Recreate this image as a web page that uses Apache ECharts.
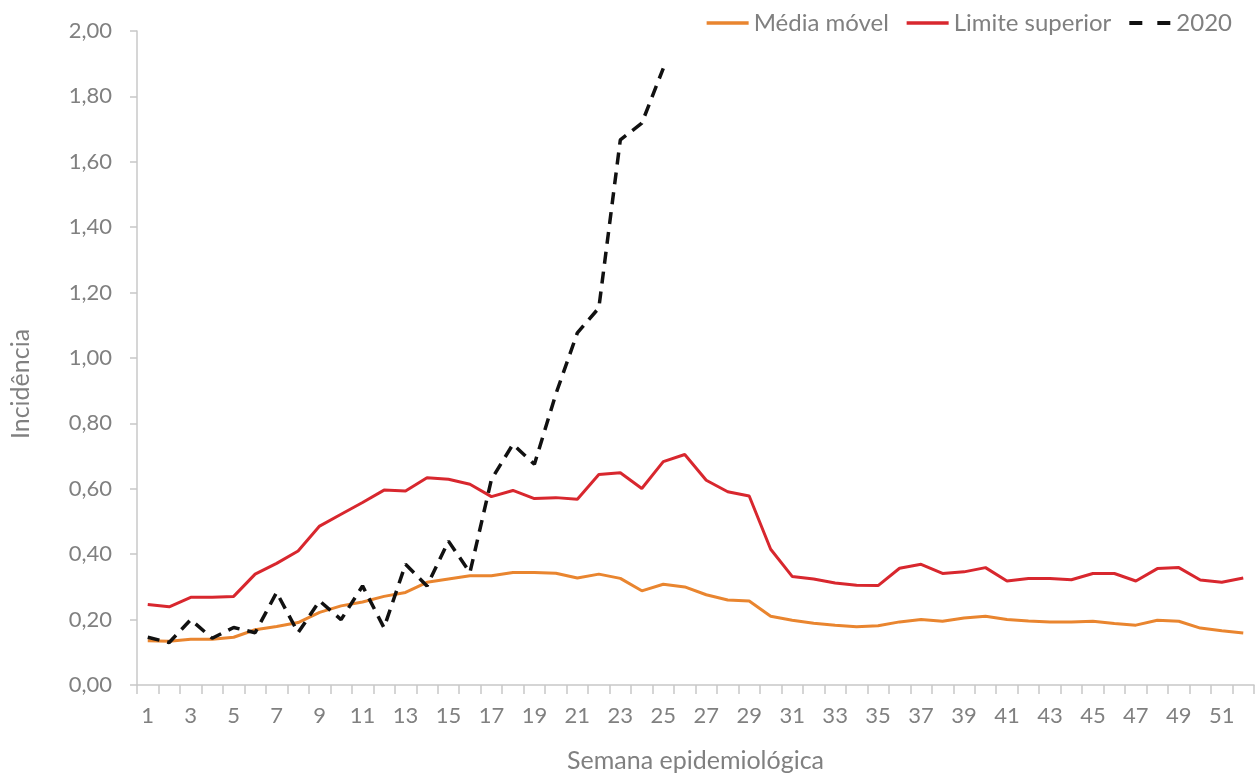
<!DOCTYPE html>
<html>
<head>
<meta charset="utf-8">
<script src="https://cdn.jsdelivr.net/npm/echarts@6/dist/echarts.min.js"></script>
<style>
  html, body { margin: 0; padding: 0; background: #fff; }
  #chart { width: 1259px; height: 780px; }
</style>
</head>
<body>
<div id="chart"></div>
<script>
var semanas = ['1','2','3','4','5','6','7','8','9','10','11','12','13','14','15','16','17','18','19','20',
    '21','22','23','24','25','26','27','28','29','30','31','32','33','34','35','36','37','38','39','40',
    '41','42','43','44','45','46','47','48','49','50','51','52'];

var mediaMovel = [0.135,0.134,0.140,0.140,0.146,0.169,0.179,0.191,0.222,0.242,
    0.254,0.271,0.283,0.314,0.324,0.334,0.334,0.344,0.344,0.342,
    0.327,0.339,0.326,0.288,0.308,0.300,0.276,0.260,0.257,0.210,
    0.198,0.189,0.183,0.178,0.181,0.193,0.200,0.195,0.205,0.210,
    0.200,0.196,0.193,0.193,0.195,0.188,0.183,0.198,0.195,0.174,
    0.166,0.159];

var limiteSuperior = [0.246,0.239,0.268,0.268,0.271,0.339,0.372,0.410,0.486,0.522,
    0.558,0.596,0.593,0.634,0.629,0.614,0.576,0.595,0.570,0.573,
    0.568,0.644,0.649,0.601,0.683,0.705,0.626,0.591,0.578,0.415,
    0.332,0.324,0.312,0.305,0.304,0.357,0.369,0.341,0.346,0.359,
    0.318,0.326,0.326,0.322,0.341,0.341,0.318,0.356,0.359,0.321,
    0.314,0.327];

var serie2020 = [0.146,0.130,0.200,0.143,0.176,0.160,0.283,0.160,0.257,0.200,
    0.303,0.175,0.369,0.303,0.440,0.344,0.629,0.736,0.675,0.890,
    1.077,1.153,1.667,1.718,1.886];

var textColor = '#808080';
var fonte = 'Lato';

var option = {
    backgroundColor: '#ffffff',
    textStyle: { fontFamily: fonte },
    legend: {
        top: 6,
        right: 22,
        itemWidth: 42,
        itemHeight: 14,
        itemGap: 16,
        itemStyle: { opacity: 0 },
        textStyle: { color: textColor, fontSize: 24, fontFamily: fonte },
        data: [
            { name: 'Média móvel', lineStyle: { width: 3.5 } },
            { name: 'Limite superior', lineStyle: { width: 3.5 } },
            { name: '2020', lineStyle: { width: 4, type: [13, 15] } }
        ]
    },
    grid: {
        left: 131,
        right: 5,
        top: 31,
        bottom: 95
    },
    xAxis: {
        type: 'category',
        data: semanas,
        boundaryGap: true,
        name: 'Semana epidemiológica',
        nameLocation: 'middle',
        nameGap: 63,
        nameTextStyle: { color: textColor, fontSize: 25, fontFamily: fonte },
        axisLine: { lineStyle: { color: '#c8c8c8', width: 1.5 } },
        axisTick: { show: true, interval: 0, length: 9, lineStyle: { color: '#c8c8c8', width: 1.5 } },
        axisLabel: { interval: 1, color: textColor, fontSize: 22, margin: 20 }
    },
    yAxis: {
        type: 'value',
        min: 0,
        max: 2,
        interval: 0.2,
        name: 'Incidência',
        nameLocation: 'middle',
        nameGap: 104,
        nameTextStyle: { color: textColor, fontSize: 25, fontFamily: fonte, padding: [0, 52, 0, 0] },
        splitLine: { show: false },
        axisLine: { show: true, lineStyle: { color: '#c8c8c8', width: 1.5 } },
        axisTick: { show: true, length: 7, lineStyle: { color: '#c8c8c8', width: 1.5 } },
        axisLabel: {
            color: textColor,
            fontSize: 22,
            margin: 25,
            formatter: function (v) { return v.toFixed(2).replace('.', ','); }
        }
    },
    series: [
        {
            name: 'Média móvel',
            type: 'line',
            data: mediaMovel,
            symbol: 'none',
            color: '#e9852f',
            lineStyle: { color: '#e9852f', width: 3 },
            z: 2
        },
        {
            name: 'Limite superior',
            type: 'line',
            data: limiteSuperior,
            symbol: 'none',
            color: '#d8272e',
            lineStyle: { color: '#d8272e', width: 3 },
            z: 3
        },
        {
            name: '2020',
            type: 'line',
            data: serie2020,
            symbol: 'none',
            color: '#111111',
            lineStyle: { color: '#111111', width: 3.5, type: [12, 8] },
            z: 4
        }
    ]
};

var myChart = echarts.init(document.getElementById('chart'));
myChart.setOption(option);
</script>
</body>
</html>
